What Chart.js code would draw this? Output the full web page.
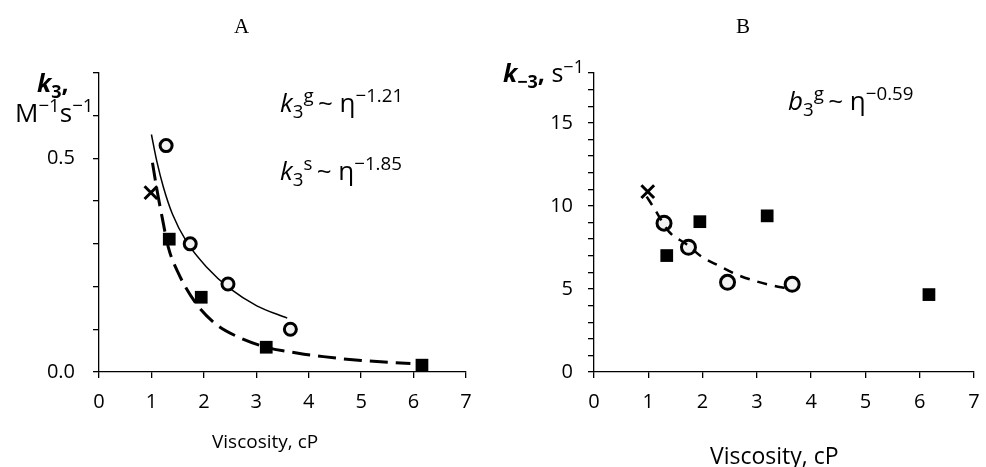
<!DOCTYPE html>
<html lang="en">
<head>
<meta charset="utf-8" />
<title>k3 and k-3 versus viscosity</title>
<script src="https://cdn.jsdelivr.net/npm/chart.js@4.4.1/dist/chart.umd.min.js"></script>
<style>
  body { margin: 0; background: #fff; }
  #wrap { position: relative; width: 986px; height: 467px; overflow: hidden; font-family: "Open Sans", sans-serif; color: #000; }
  canvas { position: absolute; top: 0; }
  .t { position: absolute; white-space: nowrap; line-height: 1; }
  .panel { font-family: "Liberation Serif", serif; font-size: 21px; }
  sub, sup { font-size: 72%; line-height: 0; }
</style>
</head>
<body>
<div id="wrap">
  <canvas id="chartA" width="493" height="467" style="left:0"></canvas>
  <canvas id="chartB" width="493" height="467" style="left:493px"></canvas>

  <div class="t panel" style="left:234px; top:16px">A</div>
  <div class="t panel" style="left:736px; top:16px">B</div>

  <div class="t" style="left:37px; top:70px; font-size:25px"><b><i>k</i><sub>3</sub>,</b></div>
  <div class="t" style="left:15px; top:99px; font-size:26px">M<sup>&minus;1</sup>s<sup>&minus;1</sup></div>
  <div class="t" style="left:280px; top:89px; font-size:26px"><i>k</i><sub>3</sub><sup>g</sup>&thinsp;~ &eta;<sup>&minus;1.21</sup></div>
  <div class="t" style="left:280px; top:157px; font-size:26px"><i>k</i><sub>3</sub><sup>s</sup>&thinsp;~ &eta;<sup>&minus;1.85</sup></div>
  <div class="t" style="left:212px; top:432px; font-size:19px">Viscosity, cP</div>

  <div class="t" style="left:503px; top:60px; font-size:25px"><b><i>k</i><sub>&minus;3</sub>,</b> s<sup>&minus;1</sup></div>
  <div class="t" style="left:788px; top:87px; font-size:26px"><i>b</i><sub>3</sub><sup>g</sup>&thinsp;~ &eta;<sup>&minus;0.59</sup></div>
  <div class="t" style="left:710px; top:444px; font-size:23px">Viscosity, cP</div>
</div>

<script>
// panel A: k3 (M-1 s-1) vs viscosity (cP)
const circlesAx = [1.28, 1.74, 2.46, 3.65];
const circlesAy = [0.53, 0.30, 0.206, 0.10];
const squaresAx = [1.34, 1.95, 3.19, 6.16];
const squaresAy = [0.311, 0.175, 0.058, 0.016];
const crossAx = [0.99];
const crossAy = [0.42];
// fitted curves
const fitGAx = [1.0, 1.1, 1.23, 1.4, 1.67, 2.05, 2.5, 3.01, 3.59];
const fitGAy = [0.556, 0.495, 0.432, 0.37, 0.305, 0.246, 0.195, 0.155, 0.126];
const fitSAx = [1.02, 1.1, 1.2, 1.32, 1.5, 1.83, 2.2, 2.6, 3.19, 3.8, 4.28, 5.0, 5.94];
const fitSAy = [0.49, 0.43, 0.365, 0.293, 0.235, 0.164, 0.115, 0.085, 0.058, 0.044, 0.036, 0.027, 0.020];
const yTicksA = [0, 0.1, 0.2, 0.3, 0.4, 0.5, 0.6, 0.7];
const yLabelsA = [0.0, 0.5];

// panel B: k-3 (s-1) vs viscosity (cP)
const circlesBx = [1.29, 1.74, 2.46, 3.65];
const circlesBy = [8.96, 7.51, 5.40, 5.28];
const squaresBx = [1.34, 1.95, 3.19, 6.17];
const squaresBy = [7.01, 9.05, 9.40, 4.66];
const crossBx = [0.99];
const crossBy = [10.86];
const fitBx = [0.97, 1.1, 1.38, 1.7, 1.98, 2.3, 2.65, 3.0, 3.3, 3.56];
const fitBy = [10.56, 9.9, 8.45, 7.7, 6.95, 6.4, 5.84, 5.45, 5.2, 5.04];
const yTicksB = [0, 1, 2, 3, 4, 5, 6, 7, 8, 9, 10, 11, 12, 13, 14, 15, 16, 17, 18];
const yLabelsB = [0, 5, 10, 15];

const xTickLabels = [0, 1, 2, 3, 4, 5, 6, 7];

function pts(xs, ys) {
  return xs.map((x, i) => ({x: x, y: ys[i]}));
}

const tickFont = {family: 'Open Sans', size: 20};

function xAxis() {
  return {
    type: 'linear', min: 0, max: 7,
    afterBuildTicks: (s) => { s.ticks = xTickLabels.map(v => ({value: v})); },
    grid: {drawOnChartArea: false, tickLength: 6, color: '#000', lineWidth: 1.3},
    border: {color: '#000', width: 1.3},
    ticks: {color: '#000', font: tickFont, padding: 12, maxRotation: 0, autoSkip: false},
    afterFit: (s) => { s.height = 95; s.paddingLeft = 0; s.paddingRight = 0; }
  };
}

function yAxis(ticks, labels, digits, width, pad) {
  return {
    type: 'linear', min: ticks[0], max: ticks[ticks.length - 1],
    afterBuildTicks: (s) => { s.ticks = ticks.map(v => ({value: v})); },
    ticks: {
      color: '#000', font: tickFont, padding: pad, autoSkip: false,
      callback: (v) => labels.some(l => Math.abs(l - v) < 1e-6) ? v.toFixed(digits) : ''
    },
    grid: {drawOnChartArea: false, tickLength: 6, color: '#000', lineWidth: 1.3},
    border: {color: '#000', width: 1.3},
    afterFit: (s) => { s.width = width; s.paddingTop = 0; s.paddingBottom = 0; }
  };
}

function markers(cx, cy, sx, sy, kx, ky, circleR) {
  return [
    {data: pts(cx, cy), pointStyle: 'circle', pointRadius: circleR, pointBackgroundColor: '#f2f2f2',
     pointBorderColor: '#000', pointBorderWidth: 3, showLine: false},
    {data: pts(sx, sy), pointStyle: 'rect', pointRadius: 9, pointBackgroundColor: '#000',
     pointBorderColor: '#000', pointBorderWidth: 0, showLine: false},
    {data: pts(kx, ky), pointStyle: 'crossRot', pointRadius: 9, pointBorderColor: '#000',
     pointBorderWidth: 3, showLine: false}
  ];
}

function curve(xs, ys, width, dash) {
  return {data: pts(xs, ys), showLine: true, pointRadius: 0, borderColor: '#000',
          borderWidth: width, borderDash: dash, cubicInterpolationMode: 'monotone', fill: false};
}

function baseOptions(scales, padRight) {
  return {
    responsive: false, animation: false, clip: false,
    layout: {padding: {left: 0, right: padRight, top: 73, bottom: 0}},
    plugins: {legend: {display: false}, tooltip: {enabled: false}, title: {display: false}},
    scales: scales
  };
}

new Chart(document.getElementById('chartA'), {
  type: 'scatter',
  data: {datasets: markers(circlesAx, circlesAy, squaresAx, squaresAy, crossAx, crossAy, 6).concat([
    curve(fitGAx, fitGAy, 1.5, []),
    curve(fitSAx, fitSAy, 3, [18, 8])
  ])},
  options: baseOptions({x: xAxis(), y: yAxis(yTicksA, yLabelsA, 1, 99, 18)}, 27)
});

new Chart(document.getElementById('chartB'), {
  type: 'scatter',
  data: {datasets: [curve(fitBx, fitBy, 2.5, [10, 8])].concat(
    markers(circlesBx, circlesBy, squaresBx, squaresBy, crossBx, crossBy, 7))},
  options: baseOptions({x: xAxis(), y: yAxis(yTicksB, yLabelsB, 0, 101, 15)}, 6)
});
</script>
</body>
</html>
